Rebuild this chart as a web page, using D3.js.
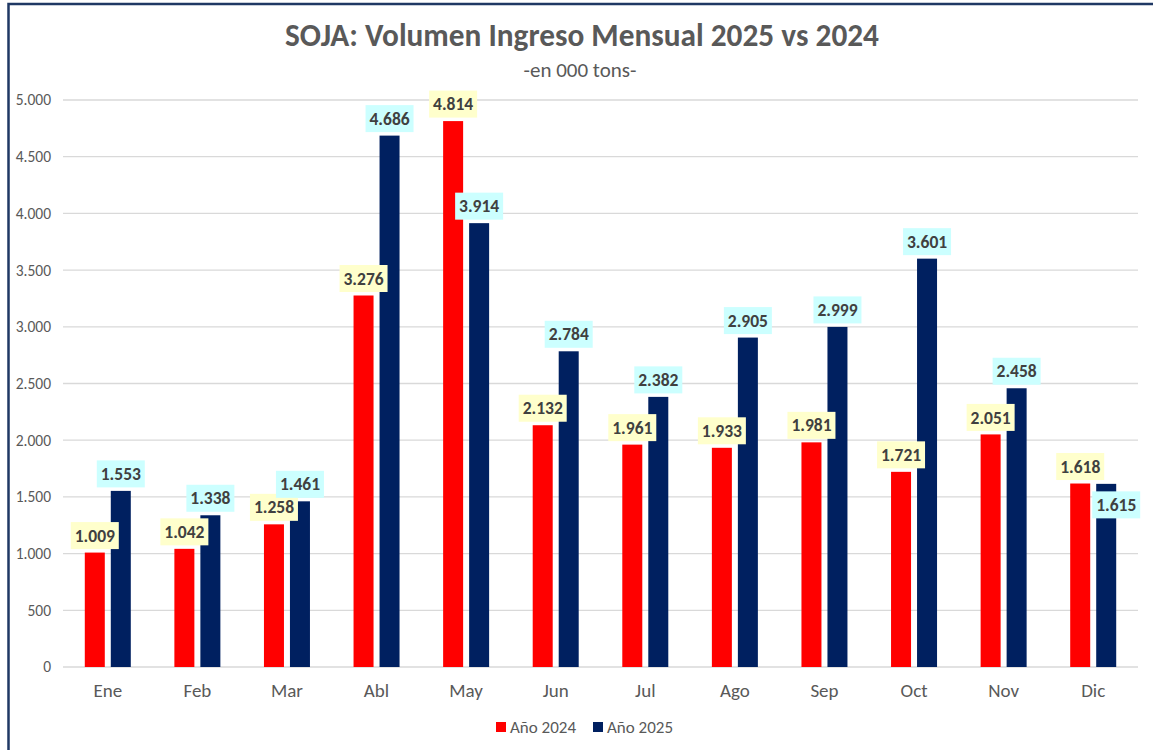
<!DOCTYPE html>
<html>
<head>
<meta charset="utf-8">
<script src="https://cdn.jsdelivr.net/npm/d3@7"></script>
<style>
  body { margin: 0; background: #fff; }
  svg { font-family: Calibri, Carlito, "Open Sans", sans-serif; }
</style>
</head>
<body>
<div id="chart"></div>
<script>
const months = ["Ene", "Feb", "Mar", "Abl", "May", "Jun", "Jul", "Ago", "Sep", "Oct", "Nov", "Dic"];
const values2024 = [1009, 1042, 1258, 3276, 4814, 2132, 1961, 1933, 1981, 1721, 2051, 1618];
const values2025 = [1553, 1338, 1461, 4686, 3914, 2784, 2382, 2905, 2999, 3601, 2458, 1615];
const yTicks = [0, 500, 1000, 1500, 2000, 2500, 3000, 3500, 4000, 4500, 5000];
const seriesNames = ["Año 2024", "Año 2025"];
const seriesColors = ["#FF0000", "#002060"];
const labelFills = ["#FFFFCC", "#CCFFFF"];

const width = 1153, height = 750;
const margin = { top: 100, right: 15, bottom: 83, left: 63 };
const innerW = width - margin.left - margin.right;
const innerH = height - margin.top - margin.bottom;
const font = "Calibri, Carlito, 'Open Sans', sans-serif";

const svg = d3.select("#chart").append("svg")
  .attr("width", width)
  .attr("height", height);

// outer frame
svg.append("rect")
  .attr("x", 8.5).attr("y", 4)
  .attr("width", width + 20).attr("height", height + 20)
  .attr("fill", "none")
  .attr("stroke", "#1F3864")
  .attr("stroke-width", 2.5);

svg.append("text")
  .attr("x", 582).attr("y", 46)
  .attr("text-anchor", "middle")
  .attr("font-size", 31.3).attr("font-weight", "bold")
  .attr("fill", "#595959")
  .text("SOJA: Volumen Ingreso Mensual 2025 vs 2024");

svg.append("text")
  .attr("x", 580).attr("y", 77)
  .attr("text-anchor", "middle")
  .attr("font-size", 21)
  .attr("fill", "#595959")
  .text("-en 000 tons-");

const g = svg.append("g")
  .attr("transform", `translate(${margin.left},${margin.top})`);

const x = d3.scaleBand().domain(months).range([0, innerW]);
const y = d3.scaleLinear().domain([0, 5000]).range([innerH, 0]);

// gridlines
g.append("g")
  .selectAll("line")
  .data(yTicks)
  .join("line")
  .attr("x1", 0).attr("x2", innerW)
  .attr("y1", d => y(d)).attr("y2", d => y(d))
  .attr("stroke", "#D9D9D9")
  .attr("stroke-width", 1.3);

const yAxis = g.append("g")
  .call(d3.axisLeft(y).tickValues(yTicks)
    .tickFormat(d => d3.format(",")(d).replace(/,/g, "."))
    .tickSize(0).tickPadding(12));
yAxis.select(".domain").remove();
yAxis.selectAll("text")
  .attr("font-size", 15.5)
  .attr("fill", "#595959")
  .attr("font-family", font);

const xAxis = g.append("g")
  .attr("transform", `translate(0,${innerH})`)
  .call(d3.axisBottom(x).tickSize(0).tickPadding(17));
xAxis.select(".domain").remove();
xAxis.selectAll("text")
  .attr("font-size", 19)
  .attr("fill", "#595959")
  .attr("font-family", font);

const barW = 20, gap = 6;
const series = [values2024, values2025];
const fmt = v => d3.format(",")(v).replace(/,/g, ".");

series.forEach((vals, si) => {
  const offset = si === 0 ? -(gap / 2 + barW) : gap / 2;
  g.append("g")
    .selectAll("rect")
    .data(vals)
    .join("rect")
    .attr("x", (d, i) => x(months[i]) + x.bandwidth() / 2 + offset)
    .attr("y", d => y(d))
    .attr("width", barW)
    .attr("height", d => innerH - y(d))
    .attr("fill", seriesColors[si]);
});

// data labels
series.forEach((vals, si) => {
  const offset = si === 0 ? -(gap / 2 + barW / 2) : gap / 2 + barW / 2;
  const lab = g.append("g")
    .selectAll("g")
    .data(vals)
    .join("g")
    .attr("transform", (d, i) => {
      let cx = x(months[i]) + x.bandwidth() / 2 + offset;
      let cy = y(d) - 17;
      // last label of 2025 was moved down beside the bar in the original
      if (si === 1 && i === vals.length - 1) { cx += 10; cy = y(d) + 21; }
      return `translate(${cx},${cy})`;
    });
  lab.append("rect")
    .attr("x", -24).attr("y", -13.5)
    .attr("width", 48).attr("height", 27)
    .attr("fill", labelFills[si]);
  lab.append("text")
    .attr("text-anchor", "middle")
    .attr("dy", "0.35em")
    .attr("font-size", 17.5).attr("font-weight", "bold")
    .attr("fill", "#404040")
    .text(d => fmt(d));
});

// legend
const legend = svg.append("g").attr("transform", "translate(496,727)");
seriesNames.forEach((name, i) => {
  const lg = legend.append("g").attr("transform", `translate(${i * 97},0)`);
  lg.append("rect")
    .attr("x", 0).attr("y", -5)
    .attr("width", 10).attr("height", 10)
    .attr("fill", seriesColors[i]);
  lg.append("text")
    .attr("x", 14).attr("dy", "0.35em")
    .attr("font-size", 17)
    .attr("fill", "#595959")
    .text(name);
});
</script>
</body>
</html>
